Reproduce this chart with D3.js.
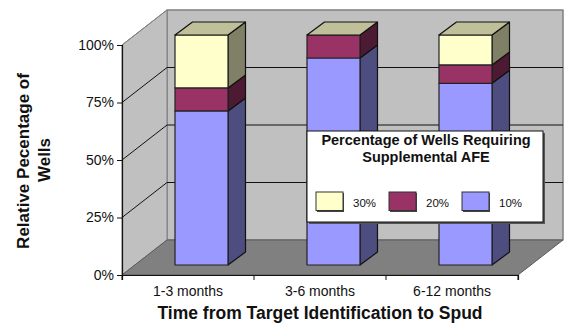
<!DOCTYPE html>
<html>
<head>
<meta charset="utf-8">
<script src="https://cdn.jsdelivr.net/npm/d3@7/dist/d3.min.js"></script>
<style>
html,body{margin:0;padding:0;background:#fff;}
svg{display:block;}
text{font-family:"Liberation Sans",Arial,sans-serif;fill:#111;}
</style>
</head>
<body>
<svg id="chart" width="569" height="325"></svg>
<script>
// Stacked 3-D column chart: supplemental AFE share by time to spud
const categories = ["1-3 months", "3-6 months", "6-12 months"];
const series10 = [67, 90, 79];
const series20 = [10, 10, 8];
const series30 = [23, 0, 13];
const yTicks = [0, 25, 50, 75, 100];
const legendOrder = ["30%", "20%", "10%"];

const colors = {
  "10%": {front: "#9999FF", side: "#4D4D80"},
  "20%": {front: "#993366", side: "#4D1A33"},
  "30%": {front: "#FFFFCC", side: "#808066", top: "#BFBF99"}
};
const stackedSeries = [["10%", series10], ["20%", series20], ["30%", series30]];

const svg = d3.select("#chart");
const front = {left: 122, right: 518, bottom: 275, top: 45};
const wallDepth = {dx: 45, dy: -35};
const barInset = {dx: 13.5, dy: -10};
const barDepth = {dx: 17.5, dy: -13};
const barWidth = 53;

const x = d3.scaleBand().domain(categories).range([front.left, front.right]);
const y = d3.scaleLinear().domain([0, 100]).range([front.bottom, front.top]);

const poly = (pts, fill, stroke, sw) => svg.append("polygon")
  .attr("points", pts.map(p => p.join(",")).join(" "))
  .attr("fill", fill).attr("stroke", stroke).attr("stroke-width", sw)
  .attr("stroke-linejoin", "round");

// Walls and floor
const L = front.left, R = front.right, dx = wallDepth.dx, dy = wallDepth.dy;
poly([[L + dx, y(100) + dy], [R + dx, y(100) + dy], [R + dx, y(0) + dy], [L + dx, y(0) + dy]], "#C0C0C0", "#808080", 1.5);
poly([[L, y(100)], [L + dx, y(100) + dy], [L + dx, y(0) + dy], [L, y(0)]], "#C0C0C0", "#808080", 1);
poly([[L, y(0)], [R, y(0)], [R + dx, y(0) + dy], [L + dx, y(0) + dy]], "#808080", "#5a5a5a", 1);

// Gridlines run along the side wall and across the back wall
yTicks.filter(t => t > 0 && t < 100).forEach(t => {
  svg.append("path")
    .attr("d", d3.line()([[L, y(t)], [L + dx, y(t) + dy], [R + dx, y(t) + dy]]))
    .attr("fill", "none").attr("stroke", "#111").attr("stroke-width", 1);
});
svg.append("line").attr("x1", L).attr("y1", y(100)).attr("x2", L + dx).attr("y2", y(100) + dy)
  .attr("stroke", "#808080").attr("stroke-width", 1);

// Columns, one cuboid segment per series
const barBase = t => y(t) + barInset.dy;
categories.forEach((cat, i) => {
  const x0 = x(cat) + x.bandwidth() / 2 + barInset.dx - barWidth / 2;
  const x1 = x0 + barWidth;
  let acc = 0;
  stackedSeries.forEach(([name, vals]) => {
    const v = vals[i];
    if (v <= 0) return;
    const yb = barBase(acc), yt = barBase(acc + v);
    const c = colors[name];
    poly([[x1, yb], [x1 + barDepth.dx, yb + barDepth.dy], [x1 + barDepth.dx, yt + barDepth.dy], [x1, yt]], c.side, "#111", 1.2);
    poly([[x0, yb], [x1, yb], [x1, yt], [x0, yt]], c.front, "#222", 1.2);
    acc += v;
  });
  const yt = barBase(acc);
  poly([[x0, yt], [x1, yt], [x1 + barDepth.dx, yt + barDepth.dy], [x0 + barDepth.dx, yt + barDepth.dy]], colors["30%"].top, "#111", 1.2);
});

// Axes
const yAxis = svg.append("g").attr("transform", `translate(${L},0)`)
  .call(d3.axisLeft(y).tickValues(yTicks).tickFormat(d => d + "%").tickSize(5).tickPadding(3));
const xAxis = svg.append("g").attr("transform", `translate(0,${front.bottom})`)
  .call(d3.axisBottom(x).tickSize(5).tickPadding(8).tickSizeOuter(5));
[yAxis, xAxis].forEach(g => {
  g.selectAll("path").attr("stroke", "#111").attr("stroke-width", 1.2);
  g.selectAll("line").attr("stroke", "#111");
  g.selectAll("text").attr("font-family", '"Liberation Sans",Arial,sans-serif').attr("font-size", 14).attr("fill", "#222");
});
xAxis.selectAll("text").attr("dy", "0.55em");
// Category boundaries carry the ticks on the x axis
xAxis.selectAll(".tick line").remove();
d3.range(categories.length + 1).forEach(k => {
  const tx = L + k * x.step();
  svg.append("line").attr("x1", tx).attr("x2", tx).attr("y1", front.bottom).attr("y2", front.bottom + 5).attr("stroke", "#111");
});

// Axis titles
svg.append("text").attr("x", 320).attr("y", 319).attr("text-anchor", "middle")
  .attr("font-weight", "bold").attr("font-size", 17.5).text("Time from Target Identification to Spud");
svg.append("text").attr("transform", "translate(29,161) rotate(-90)").attr("text-anchor", "middle")
  .attr("font-weight", "bold").attr("font-size", 17).text("Relative Pecentage of");
svg.append("text").attr("transform", "translate(50,160) rotate(-90)").attr("text-anchor", "middle")
  .attr("font-weight", "bold").attr("font-size", 17).text("Wells");

// Legend box with drop shadow
const lg = {x: 307, y: 131, w: 236, h: 91};
svg.append("rect").attr("x", lg.x + 2).attr("y", lg.y + 2).attr("width", lg.w).attr("height", lg.h).attr("fill", "#555");
svg.append("rect").attr("x", lg.x).attr("y", lg.y).attr("width", lg.w).attr("height", lg.h).attr("fill", "#fff").attr("stroke", "#111").attr("stroke-width", 1);
svg.append("text").attr("x", lg.x + lg.w / 2 + 1).attr("y", 145).attr("text-anchor", "middle")
  .attr("font-weight", "bold").attr("font-size", 14.5).text("Percentage of Wells Requiring");
svg.append("text").attr("x", lg.x + lg.w / 2 + 1).attr("y", 162).attr("text-anchor", "middle")
  .attr("font-weight", "bold").attr("font-size", 14.5).text("Supplemental AFE");

const legendX = d3.scalePoint().domain(legendOrder).range([316, 462]);
legendOrder.forEach(name => {
  const sx = legendX(name);
  svg.append("rect").attr("x", sx + 1).attr("y", 193).attr("width", 27).attr("height", 19).attr("fill", "#444");
  svg.append("rect").attr("x", sx).attr("y", 192).attr("width", 27).attr("height", 18.5)
    .attr("fill", colors[name].front).attr("stroke", "#333").attr("stroke-width", 1);
  svg.append("text").attr("x", sx + 37).attr("y", 207).attr("font-size", 11.5).attr("fill", "#222").text(name);
});
</script>
</body>
</html>
